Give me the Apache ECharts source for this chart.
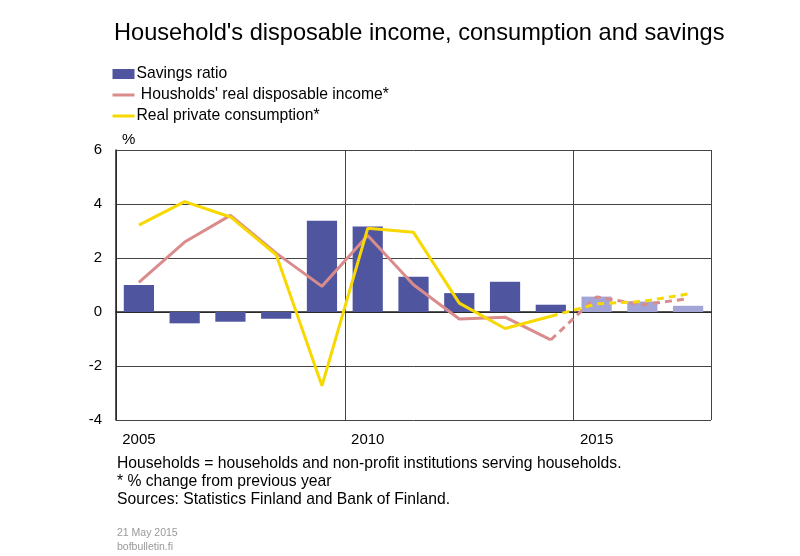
<!DOCTYPE html>
<html>
<head>
<meta charset="utf-8">
<script src="https://cdn.jsdelivr.net/npm/echarts@6/dist/echarts.min.js"></script>
<style>
  html, body { margin: 0; padding: 0; background: #fff; }
  #main { width: 800px; height: 556px; }
</style>
</head>
<body>
<div id="main"></div>
<script>
// data
var years = ['2005','2006','2007','2008','2009','2010','2011','2012','2013','2014','2015','2016','2017'];
var savingsRatio = [1.0, -0.42, -0.36, -0.25, 3.38, 3.17, 1.31, 0.70, 1.12, 0.27, 0.57, 0.39, 0.23];
var forecastFrom = 10; // 2015 onwards is forecast
var incomeChange = [1.10, 2.59, 3.58, 2.18, 0.95, 2.83, 1.01, -0.26, -0.19, -1.03, 0.56, 0.27, 0.49];
var consumptionChange = [3.22, 4.09, 3.52, 2.12, -2.73, 3.10, 2.95, 0.33, -0.61, -0.16, 0.30, 0.39, 0.67];
var yTicks = [-4, -2, 0, 2, 4, 6];

var barColor = '#5055a0', barColorLight = '#a2a5d6';
var pink = '#da8c8c', yellow = '#f7d800';

// split a line into the actual part and the forecast part (shares the last actual point)
function actualPart(arr) {
    return arr.map(function (v, i) { return i <= forecastFrom - 1 ? v : null; });
}
function forecastPart(arr) {
    return arr.map(function (v, i) { return i >= forecastFrom - 1 ? v : null; });
}

var myChart = echarts.init(document.getElementById('main'));

var font = 'Liberation Sans, Arial, sans-serif';

option = {
    animation: false,
    textStyle: { fontFamily: font },
    title: {
        text: "Household's disposable income, consumption and savings",
        left: 109, top: 16,
        textStyle: { fontSize: 23.6, fontWeight: 'normal', color: '#000', fontFamily: font }
    },
    legend: {
        orient: 'vertical',
        left: 106, top: 61,
        itemWidth: 22, itemHeight: 10, itemGap: 5,
        textStyle: { fontSize: 15.7, color: '#000', fontFamily: font, padding: [0, 0, 0, -3] },
        data: [
            { name: 'Savings ratio', icon: 'rect' },
            { name: "Housholds' real disposable income*", itemStyle: { opacity: 0 }, lineStyle: { width: 3 } },
            { name: 'Real private consumption*', itemStyle: { opacity: 0 }, lineStyle: { width: 3 } }
        ],
        formatter: function (name) {
            return name.indexOf('Housholds') === 0 ? ' ' + name : name;
        }
    },
    grid: { left: 116, top: 150, right: 89, bottom: 136 },
    xAxis: {
        type: 'category',
        data: years,
        axisLine: { lineStyle: { color: '#222', width: 1.5 } },
        axisTick: { show: false },
        axisLabel: { interval: 4, fontSize: 15, color: '#000', margin: 12 },
        splitLine: { show: true, interval: 4, lineStyle: { color: '#444', width: 1 } }
    },
    yAxis: {
        type: 'value',
        min: -4, max: 6, interval: 2,
        name: '%',
        nameLocation: 'end',
        nameGap: 3,
        nameTextStyle: { fontSize: 15, color: '#000', align: 'left', padding: [0, 0, 0, 6] },
        axisLine: { show: true, lineStyle: { color: '#222', width: 1.5 } },
        axisTick: { show: false },
        axisLabel: {
            fontSize: 15, color: '#000', margin: 14,
            formatter: function (v) { return yTicks.indexOf(v) >= 0 ? String(v) : ''; }
        },
        splitLine: { lineStyle: { color: '#444', width: 1 } }
    },
    series: [
        {
            name: 'Savings ratio',
            type: 'bar',
            barCategoryGap: '34%',
            itemStyle: { color: barColor },
            data: savingsRatio.map(function (v, i) {
                return i >= forecastFrom ? { value: v, itemStyle: { color: barColorLight } } : v;
            }),
            z: 2
        },
        {
            name: "Housholds' real disposable income*",
            type: 'line',
            symbol: 'none',
            lineStyle: { color: pink, width: 3 },
            itemStyle: { color: pink },
            data: actualPart(incomeChange),
            z: 3
        },
        {
            name: 'income forecast',
            type: 'line',
            symbol: 'none',
            lineStyle: { color: pink, width: 3, type: [7, 5] },
            data: forecastPart(incomeChange),
            z: 3
        },
        {
            name: 'Real private consumption*',
            type: 'line',
            symbol: 'none',
            lineStyle: { color: yellow, width: 3 },
            itemStyle: { color: yellow },
            data: actualPart(consumptionChange),
            z: 4
        },
        {
            name: 'consumption forecast',
            type: 'line',
            symbol: 'none',
            lineStyle: { color: yellow, width: 3, type: [7, 5] },
            data: forecastPart(consumptionChange),
            z: 4
        }
    ],
    graphic: [
        {
            type: 'text', left: 117, top: 455,
            style: {
                text: 'Households = households and non-profit institutions serving households.\n* % change from previous year\nSources: Statistics Finland and Bank of Finland.',
                font: '15.7px ' + font, fill: '#000', lineHeight: 18
            }
        },
        {
            type: 'text', left: 117, top: 526,
            style: {
                text: '21 May 2015\nbofbulletin.fi',
                font: '10.5px ' + font, fill: '#999', lineHeight: 14
            }
        }
    ]
};

myChart.setOption(option);
</script>
</body>
</html>
